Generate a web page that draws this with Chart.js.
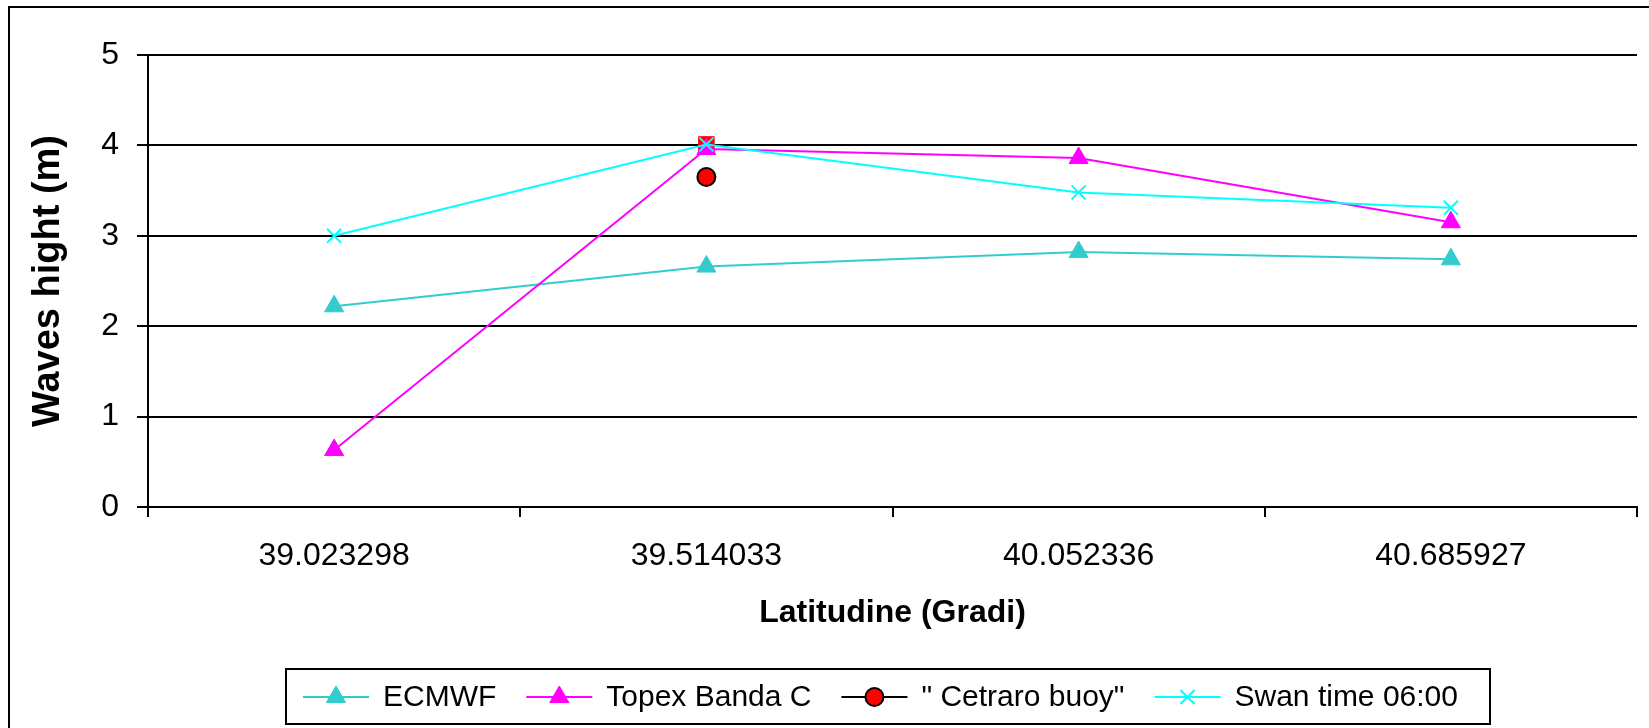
<!DOCTYPE html>
<html>
<head>
<meta charset="utf-8">
<script src="https://cdn.jsdelivr.net/npm/chart.js@4.4.1/dist/chart.umd.min.js"></script>
<style>
  html, body { margin: 0; padding: 0; background: #fff; }
  #wrap { width: 1649px; height: 728px; position: relative; }
</style>
</head>
<body>
<div id="wrap"><canvas id="c" width="1649" height="728"></canvas></div>
<script>
const categories = ['39.023298', '39.514033', '40.052336', '40.685927'];
const ecmwf = [2.22, 2.66, 2.82, 2.74];
const topex = [0.63, 3.96, 3.86, 3.15];
const buoy = [null, 3.65, null, null];
const swan = [3.0, 4.01, 3.48, 3.31];
const buoyMark = [null, 4.01, null, null];
const yTicks = [0, 1, 2, 3, 4, 5];

const FONT = "'Liberation Sans', Arial, sans-serif";

const frame = {
  id: 'frame',
  beforeDraw(chart) {
    const ctx = chart.ctx;
    ctx.save();
    ctx.fillStyle = '#fff';
    ctx.fillRect(0, 0, chart.width, chart.height);
    ctx.strokeStyle = '#000';
    ctx.lineWidth = 2;
    ctx.strokeRect(9, 7, chart.width + 10, chart.height + 10);
    ctx.restore();
  }
};

function drawMarker(ctx, ds, x, y) {
  Chart.helpers.drawPoint(ctx, {
    pointStyle: ds.pointStyle,
    radius: ds.pointRadius,
    rotation: 0,
    borderWidth: ds.pointBorderWidth
  }, x, y);
}

const legendBox = {
  id: 'legendBox',
  afterDraw(chart) {
    const ctx = chart.ctx;
    ctx.save();
    ctx.strokeStyle = '#000';
    ctx.lineWidth = 2;
    ctx.strokeRect(286, 669, 1204, 55);
    ctx.font = '30px ' + FONT;
    ctx.textBaseline = 'middle';
    ctx.textAlign = 'left';
    const cy = 697;
    let x = 303;
    chart.data.datasets.forEach(ds => {
      if (ds.hideInLegend) return;
      ctx.strokeStyle = ds.legendLine || ds.borderColor;
      ctx.lineWidth = 2;
      ctx.beginPath();
      ctx.moveTo(x, cy);
      ctx.lineTo(x + 66, cy);
      ctx.stroke();
      ctx.fillStyle = ds.pointBackgroundColor;
      ctx.strokeStyle = ds.pointBorderColor;
      ctx.lineWidth = ds.pointBorderWidth;
      drawMarker(ctx, ds, x + 33, cy);
      ctx.fillStyle = '#000';
      ctx.fillText(ds.label, x + 80, cy + 1);
      x += 80 + ctx.measureText(ds.label).width + 30;
    });
    ctx.restore();
  }
};

new Chart(document.getElementById('c'), {
  type: 'line',
  data: {
    labels: categories,
    datasets: [
      {
        label: 'ECMWF', data: ecmwf,
        borderColor: '#33CCCC', borderWidth: 2,
        pointStyle: 'triangle', pointRadius: 11,
        pointBackgroundColor: '#33CCCC', pointBorderColor: '#33CCCC', pointBorderWidth: 1,
        order: 4
      },
      {
        label: 'Topex Banda C', data: topex,
        borderColor: '#FF00FF', borderWidth: 2,
        pointStyle: 'triangle', pointRadius: 11,
        pointBackgroundColor: '#FF00FF', pointBorderColor: '#FF00FF', pointBorderWidth: 1,
        order: 2
      },
      {
        label: '" Cetraro buoy"', data: buoy,
        borderColor: '#000', borderWidth: 2, legendLine: '#000', showLine: false,
        pointStyle: 'circle', pointRadius: 9,
        pointBackgroundColor: '#FF0000', pointBorderColor: '#000', pointBorderWidth: 2,
        order: 3
      },
      {
        label: 'Swan time 06:00', data: swan,
        borderColor: '#00FFFF', borderWidth: 2,
        pointStyle: 'crossRot', pointRadius: 10,
        pointBackgroundColor: '#00FFFF', pointBorderColor: '#00FFFF', pointBorderWidth: 2,
        order: 1
      },
      {
        label: 'buoy mark', data: buoyMark, hideInLegend: true,
        borderColor: '#FF0000', borderWidth: 0, showLine: false,
        pointStyle: 'rect', pointRadius: 11,
        pointBackgroundColor: '#FF0000', pointBorderColor: '#FF0000', pointBorderWidth: 1,
        order: 5
      }
    ]
  },
  options: {
    responsive: false,
    devicePixelRatio: 1,
    animation: false,
    events: [],
    layout: { padding: { left: 0, right: 11, top: 55, bottom: 78 } },
    plugins: { legend: { display: false }, tooltip: { enabled: false } },
    elements: { line: { tension: 0 } },
    scales: {
      x: {
        type: 'category',
        offset: true,
        afterFit(s) { s.height = 728 - 78 - 507; },
        grid: { display: true, offset: true, drawOnChartArea: false, drawTicks: true, tickLength: 10, color: '#000', lineWidth: 2 },
        border: { display: true, color: '#000', width: 2 },
        ticks: { color: '#000', font: { family: FONT, size: 32 }, padding: 20, maxRotation: 0 },
        title: { display: true, text: 'Latitudine (Gradi)', color: '#000', font: { family: FONT, size: 32, weight: 'bold' }, padding: { top: 0, bottom: 18 } }
      },
      y: {
        min: 0, max: 5,
        afterFit(s) { s.width = 148; },
        afterBuildTicks(s) { s.ticks = yTicks.map(v => ({ value: v })); },
        grid: { color: '#000', lineWidth: 2, tickLength: 11, drawTicks: true },
        border: { display: true, color: '#000', width: 2 },
        ticks: { color: '#000', font: { family: FONT, size: 32 }, padding: 18 },
        title: { display: true, text: 'Waves hight (m)', color: '#000', font: { family: FONT, size: 38, weight: 'bold' }, padding: { top: 26, bottom: 0 } }
      }
    }
  },
  plugins: [frame, legendBox]
});
</script>
</body>
</html>
